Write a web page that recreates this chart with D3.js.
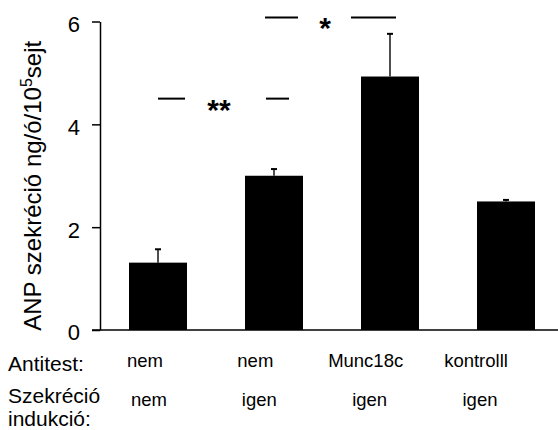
<!DOCTYPE html>
<html>
<head>
<meta charset="utf-8">
<script src="https://cdn.jsdelivr.net/npm/d3@7"></script>
<style>
  body { margin: 0; background: #fff; }
  text { font-family: "Liberation Sans", Arial, sans-serif; fill: #000; }
</style>
</head>
<body>
<div id="chart"></div>
<script>
// data
const groups = ["g1", "g2", "g3", "g4"];
const antitest = ["nem", "nem", "Munc18c", "kontrolll"];
const induction = ["nem", "igen", "igen", "igen"];
const means = [1.31, 3.0, 4.93, 2.5];
const errors = [0.26, 0.13, 0.83, 0.03];
const yTicks = [0, 2, 4, 6];
const sigFrom = [0, 1];
const sigTo = [1, 2];
const sigLevel = [4.5, 6.08];
const sigLabel = ["**", "*"];

const width = 558, height = 430;
const margin = { top: 21.5, left: 100, bottom: 100 };

const svg = d3.select("#chart")
    .append("svg")
    .attr("width", width)
    .attr("height", height);

const x = d3.scaleBand().domain(groups).range([margin.left, margin.left + 464])
    .paddingInner(0.5).paddingOuter(0.25);
const y = d3.scaleLinear().domain([0, 6]).range([height - margin.bottom, margin.top]);
const labelX = d3.scalePoint().domain(groups).range([145, 476]);

const cx = i => x(groups[i]) + x.bandwidth() / 2;

// bars
svg.append("g").selectAll("rect")
    .data(groups)
    .join("rect")
    .attr("x", d => x(d))
    .attr("width", x.bandwidth())
    .attr("y", (d, i) => y(means[i]))
    .attr("height", (d, i) => y(0) - y(means[i]))
    .attr("fill", "#000");

// error bars (upper only)
const eb = svg.append("g").attr("stroke", "#222").attr("stroke-width", 1.6);
groups.forEach((d, i) => {
    const c = cx(i);
    eb.append("line").attr("x1", c).attr("x2", c)
        .attr("y1", y(means[i])).attr("y2", y(means[i] + errors[i]));
    eb.append("line").attr("x1", c - 3).attr("x2", c + 3)
        .attr("y1", y(means[i] + errors[i])).attr("y2", y(means[i] + errors[i]))
        .attr("stroke", "#000").attr("stroke-width", 2);
});

// y axis
const yAxis = d3.axisLeft(y).tickValues(yTicks).tickFormat(d3.format("d"))
    .tickSize(8).tickSizeOuter(0).tickPadding(12);
const yg = svg.append("g").attr("transform", `translate(${margin.left},0)`).call(yAxis);
yg.select(".domain").attr("stroke-width", 1.5);
yg.selectAll(".tick line").attr("stroke-width", 1.5);
yg.selectAll(".tick text")
    .style("font-size", "22px")
    .attr("dy", "0.45em");

// x axis baseline
svg.append("line")
    .attr("x1", margin.left - 8).attr("x2", width)
    .attr("y1", y(0)).attr("y2", y(0))
    .attr("stroke", "#000").attr("stroke-width", 1.5);

// y label
svg.append("text")
    .attr("transform", `translate(41,${(y(0) + y(6)) / 2 + 10}) rotate(-90)`)
    .attr("text-anchor", "middle")
    .style("font-size", "24px")
    .html('ANP szekréció ng/ó/10<tspan dy="-9" style="font-size:16px">5</tspan><tspan dy="9">sejt</tspan>');

// significance marks
const gaps = [[0, 34, 47, 15, 61], [-9, 27, 26, 6, 51]];
sigLabel.forEach((s, k) => {
    const a = cx(sigFrom[k]), b = cx(sigTo[k]);
    const g = gaps[k];
    const mid = a + g[4];
    const ly = y(sigLevel[k]);
    svg.append("line").attr("x1", a + g[0]).attr("x2", mid - g[1])
        .attr("y1", ly).attr("y2", ly).attr("stroke", "#000").attr("stroke-width", 2);
    svg.append("line").attr("x1", mid + g[2]).attr("x2", b + g[3])
        .attr("y1", ly).attr("y2", ly).attr("stroke", "#000").attr("stroke-width", 2);
    svg.append("text").attr("x", mid).attr("y", ly + 21)
        .attr("text-anchor", "middle")
        .style("font-size", "30px").style("font-weight", "bold")
        .text(s);
});

// table labels
svg.append("text").attr("x", 8).attr("y", 371).style("font-size", "21px").text("Antitest:");
svg.append("text").attr("x", 8).attr("y", 403).style("font-size", "21px").text("Szekréció");
svg.append("text").attr("x", 8).attr("y", 426).style("font-size", "21px").text("indukció:");

svg.append("g").selectAll("text")
    .data(groups)
    .join("text")
    .attr("x", d => labelX(d))
    .attr("y", 367)
    .attr("text-anchor", "middle")
    .style("font-size", "18.5px")
    .text((d, i) => antitest[i]);

svg.append("g").selectAll("text")
    .data(groups)
    .join("text")
    .attr("x", d => labelX(d) + 4)
    .attr("y", 406)
    .attr("text-anchor", "middle")
    .style("font-size", "18.5px")
    .text((d, i) => induction[i]);
</script>
</body>
</html>
